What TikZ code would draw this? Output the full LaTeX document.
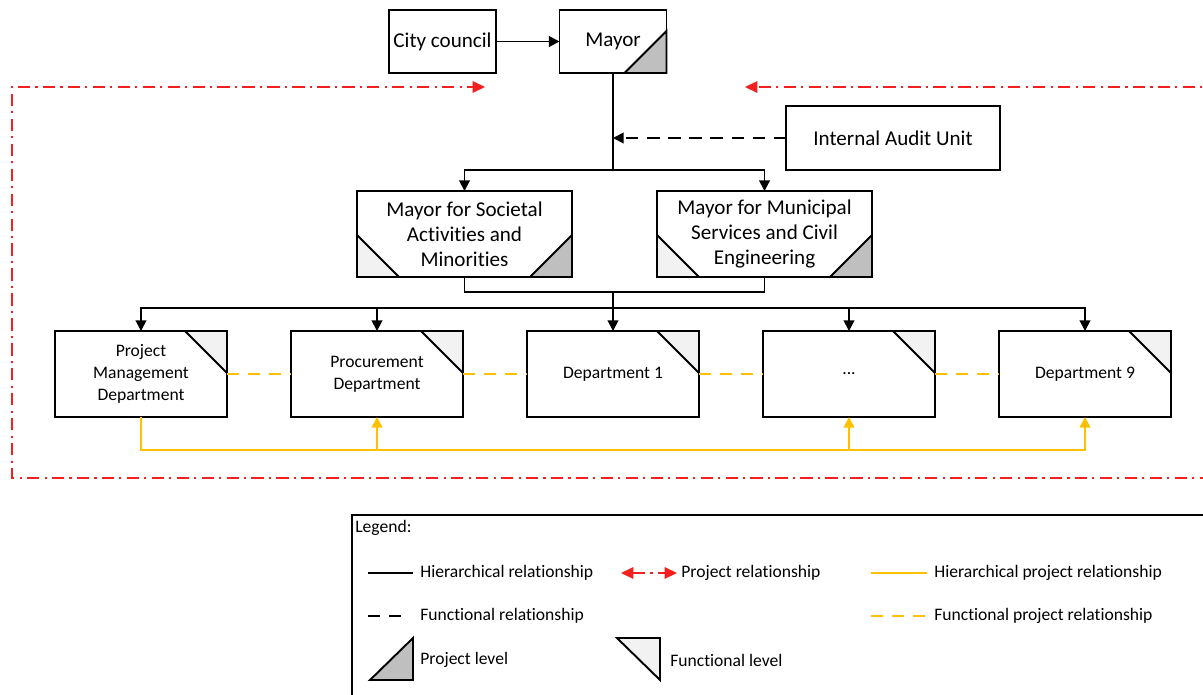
\documentclass[tikz,border=0pt]{standalone}
\usepackage{fontspec}
\setmainfont{Carlito}[Ligatures=NoCommon]
\usetikzlibrary{arrows.meta}
\definecolor{projgray}{HTML}{BFBFBF}
\definecolor{funcgray}{HTML}{F2F2F2}
\definecolor{gold}{HTML}{FFC000}
\definecolor{projred}{HTML}{F42020}
\begin{document}
\begin{tikzpicture}[x=0.02cm,y=-0.02cm,
  box/.style={draw, line width=1.1pt, fill=white, inner sep=2pt, outer sep=0pt, align=center},
  bigbox/.style={box, font=\fontsize{12}{14.3}\selectfont},
  deptbox/.style={box, font=\fontsize{10}{12.4}\selectfont, minimum width=3.44cm, minimum height=1.72cm},
  hier/.style={line width=1.1pt},
  harrow/.style={hier, -{Triangle[length=6pt,width=6pt]}},
  func/.style={line width=1.1pt, dash pattern=on 7pt off 5pt},
  farrow/.style={func, -{Triangle[length=6pt,width=6pt]}},
  yel/.style={gold, line width=1.2pt},
  yarrow/.style={yel, -{Triangle[length=6pt,width=6pt]}},
  ydash/.style={gold, line width=1.2pt, dash pattern=on 7pt off 5pt},
  proj/.style={projred, line width=0.9pt, dash pattern=on 7pt off 3pt on 1.2pt off 3pt},
  ptip/.style={-{Triangle[length=7pt,width=6.5pt]}},
  projtri/.style={fill=projgray, line width=1.1pt},
  functri/.style={fill=funcgray, line width=1.1pt},
  lg/.style={font=\fontsize{10}{12}\selectfont, anchor=west, inner sep=0pt}
]
\useasboundingbox (0,0) rectangle (1203,694);

% red project frame
\coordinate (fTL) at (12,87);
\coordinate (fBL) at (12,478);
\coordinate (fBR) at (1220,478);
\coordinate (fTR) at (1220,87);
\coordinate (fA) at (485,87);
\coordinate (fB) at (745,87);
\draw[proj,ptip] (fTR) -- (fB);
\draw[proj,ptip] (fTR) -- (fBR) -- (fBL) -- (fTL) -- (fA);

% top nodes
\node[bigbox, minimum width=2.14cm, minimum height=1.26cm] (cc) at (442.5,41.5) {City council};
\node[bigbox, minimum width=2.14cm, minimum height=1.26cm] (mayor) at (613,41.5) {Mayor};
\filldraw[projtri] (mayor.south east) -- ++(-42,0) -- ++(42,-42) -- cycle;
\node[bigbox, minimum width=4.28cm, minimum height=1.28cm] (audit) at (893,138) {Internal Audit Unit};

\node[bigbox, minimum width=4.3cm, minimum height=1.72cm] (ms) at (464.5,234) {Mayor for Societal\\Activities and\\Minorities};
\node[bigbox, minimum width=4.3cm, minimum height=1.72cm] (mm) at (764.5,234) {Mayor for Municipal\\Services and Civil\\Engineering};
\foreach \n in {ms,mm}{
  \filldraw[functri] (\n.south west) -- ++(0,-42) -- ++(42,42) -- cycle;
  \filldraw[projtri] (\n.south east) -- ++(-42,0) -- ++(42,-42) -- cycle;
}

% departments
\node[deptbox] (d1) at (141,374) {Project\\Management\\Department};
\node[deptbox] (d2) at (377,374) {Procurement\\Department};
\node[deptbox] (d3) at (613,374) {Department 1};
\node[deptbox] (d4) at (849,374) {...};
\node[deptbox] (d5) at (1085,374) {Department 9};
\foreach \n in {d1,d2,d3,d4,d5}{
  \filldraw[functri] (\n.north east) -- ++(-42,0) -- ++(42,42) -- cycle;
}

% hierarchical connectors
\coordinate (j1) at (613,170);
\coordinate (j2) at (613,292);
\coordinate (j3) at (613,308);
\draw[harrow] (cc.east) -- (mayor.west);
\draw[hier] (mayor.south) -- (j1);
\draw[harrow] (j1) -| (ms.north);
\draw[harrow] (j1) -| (mm.north);
\draw[farrow] (audit.west) -- (audit.west -| mayor.south);
\draw[hier] (ms.south) |- (j2) -| (mm.south);
\draw[hier] (j2) -- (j3);
\foreach \n in {d1,d2,d3,d4,d5}{
  \draw[harrow] (j3) -| (\n.north);
}

% functional project relationships
\draw[ydash] (d1.east) -- (d2.west);
\draw[ydash] (d2.east) -- (d3.west);
\draw[ydash] (d3.east) -- (d4.west);
\draw[ydash] (d4.east) -- (d5.west);

% hierarchical project relationships
\coordinate (yb) at (141,450);
\draw[yarrow] (d1.south) -- (yb) -| (d5.south);
\draw[yarrow] (yb -| d2.south) -- (d2.south);
\draw[yarrow] (yb -| d4.south) -- (d4.south);

% legend
\draw[line width=1.1pt] (352,515) rectangle (1220,710);
\node[lg] (lgt) at (355,528) {Legend:};
\draw[hier] (368,573) -- (413,573);
\node[lg] at (420,573) {Hierarchical relationship};
\draw[proj,{Triangle[length=7pt,width=6.5pt]}-{Triangle[length=7pt,width=6.5pt]}] (621,573) -- (677,573);
\node[lg] at (681,573) {Project relationship};
\draw[yel] (871,573) -- (927,573);
\node[lg] at (934,573) {Hierarchical project relationship};
\draw[func] (368,616) -- (405,616);
\node[lg] at (420,616) {Functional relationship};
\draw[ydash] (871,616) -- (925,616);
\node[lg] at (934,616) {Functional project relationship};
\filldraw[projtri] (370,680) -- (413,680) -- (413,638) -- cycle;
\node[lg] at (420,660) {Project level};
\filldraw[functri] (617,638) -- (660,638) -- (660,680) -- cycle;
\node[lg] at (670,660) {Functional level};
\end{tikzpicture}
\end{document}
